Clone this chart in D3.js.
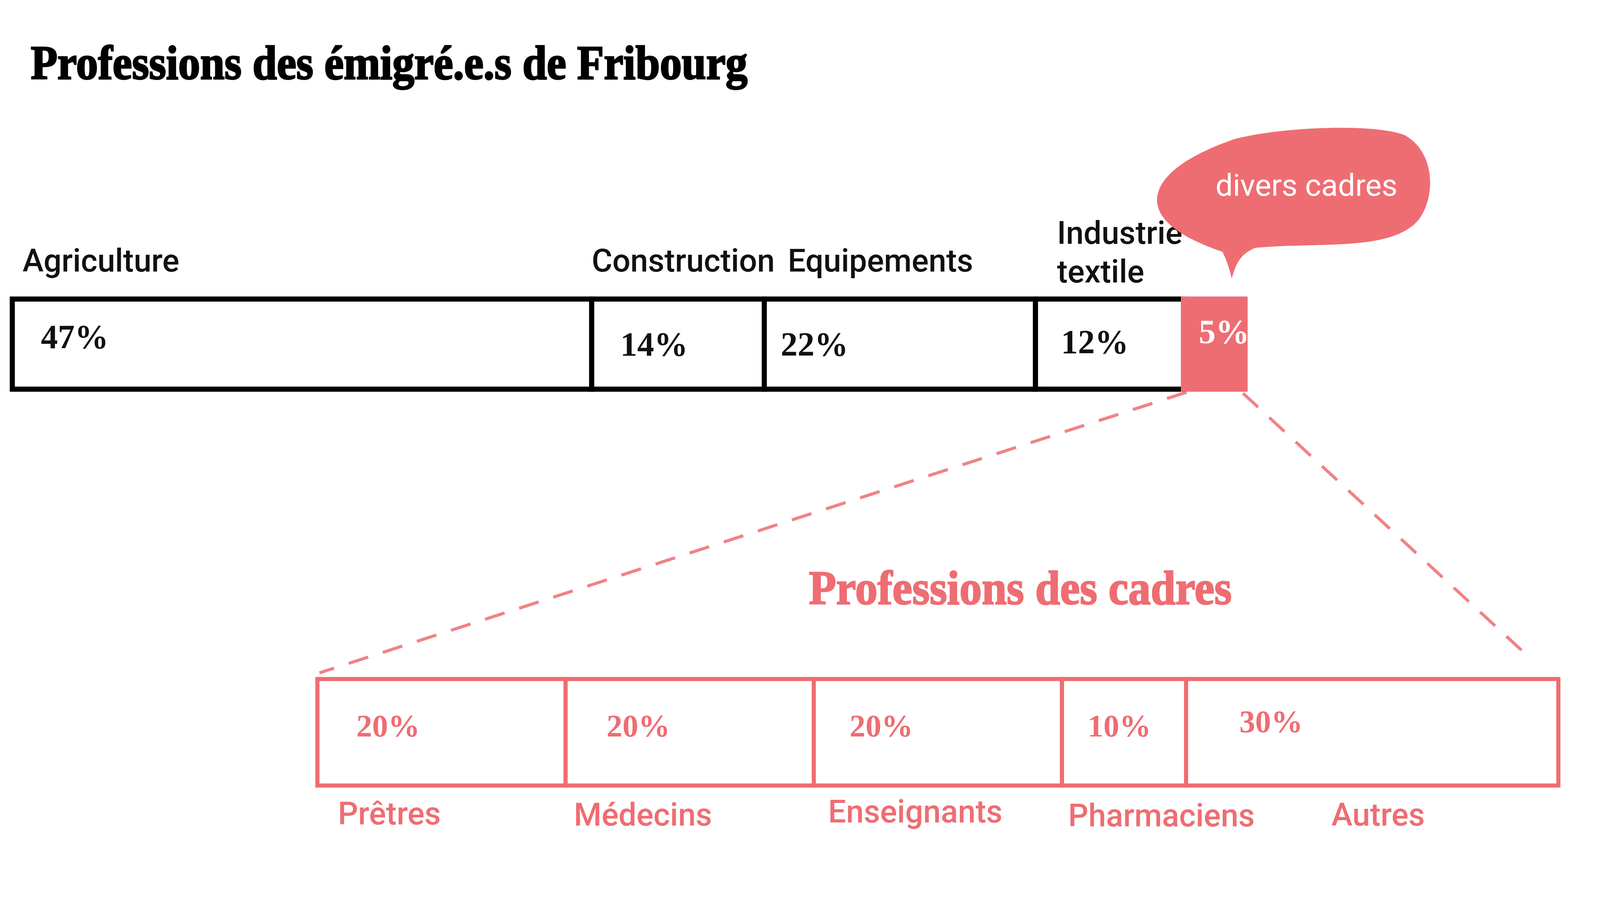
<!DOCTYPE html>
<html>
<head>
<meta charset="utf-8">
<script src="https://cdn.jsdelivr.net/npm/d3@7"></script>
<style>
  html, body { margin: 0; padding: 0; background: #fff; }
  svg { display: block; }
</style>
</head>
<body>
<div id="chart"></div>
<script>
// data
const categories = ["Agriculture", "Construction", "Equipements", "Industrie textile", "divers cadres"];
const shares = [47, 14, 22, 12, 5];
const cadreCategories = ["Prêtres", "Médecins", "Enseignants", "Pharmaciens", "Autres"];
const cadreShares = [20, 20, 20, 10, 30];

const pink = "#ee6d72";
const W = 1568, H = 2306 * 1568 / 4110;

const svg = d3.select("#chart").append("svg")
    .attr("width", 4110)
    .attr("height", 2306)
    .attr("viewBox", [0, 0, W, H]);

function stack(values) {
    let acc = 0;
    return values.map(v => { const s = { x0: acc, x1: acc + v, v }; acc += v; return s; });
}

const topSegs = stack(shares);
const botSegs = stack(cadreShares);

const xTop = d3.scaleLinear().domain([0, 100]).range([12, 1216]);
const xBot = d3.scaleLinear().domain([0, 100]).range([310, 1522]);
const topY = 292, topH = 88;
const botY = 663, botH = 104;

// title
svg.append("text")
    .attr("x", 30).attr("y", 77)
    .attr("font-family", "Liberation Serif")
    .attr("font-weight", "bold")
    .attr("font-size", 47)
    .attr("textLength", 700)
    .attr("lengthAdjust", "spacingAndGlyphs")
    .attr("fill", "#000")
    .attr("stroke", "#000")
    .attr("stroke-width", 1.4)
    .text("Professions des émigré.e.s de Fribourg");

// dashed zoom lines
const dash = svg.append("g")
    .attr("stroke", pink)
    .attr("stroke-width", 3)
    .attr("stroke-dasharray", "20 15")
    .attr("opacity", 0.85);
dash.append("line")
    .attr("x1", xTop(95) + 3).attr("y1", topY + topH + 3)
    .attr("x2", xBot(0) + 2).attr("y2", botY - 6);
dash.append("line")
    .attr("x1", xTop(100) - 2).attr("y1", topY + topH + 4)
    .attr("x2", xBot(100) - 25).attr("y2", botY - 18);

// top bar
const g1 = svg.append("g");
g1.selectAll("rect")
    .data(topSegs)
    .join("rect")
    .attr("x", d => xTop(d.x0))
    .attr("y", topY)
    .attr("width", d => xTop(d.x1) - xTop(d.x0))
    .attr("height", topH)
    .attr("fill", (d, i) => i === topSegs.length - 1 ? pink : "#fff")
    .attr("stroke", (d, i) => i === topSegs.length - 1 ? pink : "#000")
    .attr("stroke-width", 5);

const pctDx = [28, 28, 16, 25, 15];
const pctDy = [340, 347, 347, 345, 335];
g1.selectAll("text.pct")
    .data(topSegs)
    .join("text")
    .attr("class", "pct")
    .attr("x", (d, i) => xTop(d.x0) + pctDx[i])
    .attr("y", (d, i) => pctDy[i])
    .attr("font-family", "Liberation Serif")
    .attr("font-weight", "bold")
    .attr("font-size", 33)
    .attr("fill", (d, i) => i === topSegs.length - 1 ? "#fff" : "#111")
    .text(d => d.v + "%");

const labDx = [10, 0, 23, 21];
const lab = g1.selectAll("text.lab")
    .data(topSegs.slice(0, 4))
    .join("text")
    .attr("class", "lab")
    .attr("x", (d, i) => xTop(d.x0) + labDx[i])
    .attr("y", (d, i) => i === 3 ? 238 : 265)
    .attr("font-family", "Roboto")
    .attr("font-weight", 500)
    .attr("font-size", 31)
    .attr("fill", "#111");
lab.each(function (d, i) {
    const words = categories[i].split(" ");
    const t = d3.select(this);
    if (i === 3) {
        words.forEach((w, j) => t.append("tspan")
            .attr("x", xTop(d.x0) + labDx[i])
            .attr("dy", j === 0 ? 0 : 38)
            .text(w));
    } else {
        t.text(categories[i]);
    }
});

// speech bubble
svg.append("path")
    .attr("fill", pink)
    .attr("d", "M1203,272 C1207,258 1211,248 1226,242 C1290,236 1360,246 1386,214 C1403,190 1401,148 1372,132 C1342,120 1250,124 1205,136 C1165,150 1130,170 1130,196 C1131,220 1165,236 1194,246 C1199,256 1201,264 1203,272 Z");
svg.append("text")
    .attr("x", 1276).attr("y", 191)
    .attr("text-anchor", "middle")
    .attr("font-family", "Roboto")
    .attr("font-size", 30)
    .attr("fill", "#fff")
    .text(categories[4]);

// subtitle
svg.append("text")
    .attr("x", 790).attr("y", 590)
    .attr("font-family", "Liberation Serif")
    .attr("font-weight", "bold")
    .attr("font-size", 47)
    .attr("textLength", 413)
    .attr("lengthAdjust", "spacingAndGlyphs")
    .attr("fill", pink)
    .attr("stroke", pink)
    .attr("stroke-width", 1.2)
    .text("Professions des cadres");

// bottom bar
const g2 = svg.append("g");
g2.selectAll("rect")
    .data(botSegs)
    .join("rect")
    .attr("x", d => xBot(d.x0))
    .attr("y", botY)
    .attr("width", d => xBot(d.x1) - xBot(d.x0))
    .attr("height", botH)
    .attr("fill", "#fff")
    .attr("stroke", pink)
    .attr("stroke-width", 4);

const bPctDx = [38, 40, 35, 25, 52];
g2.selectAll("text.pct")
    .data(botSegs)
    .join("text")
    .attr("class", "pct")
    .attr("x", (d, i) => xBot(d.x0) + bPctDx[i])
    .attr("y", (d, i) => i === 4 ? 715 : 719)
    .attr("font-family", "Liberation Serif")
    .attr("font-weight", "bold")
    .attr("font-size", 31)
    .attr("fill", pink)
    .text(d => d.v + "%");

const bLabDx = [20, 8, 14, 6, 142];
g2.selectAll("text.lab")
    .data(botSegs)
    .join("text")
    .attr("class", "lab")
    .attr("x", (d, i) => xBot(d.x0) + bLabDx[i])
    .attr("y", (d, i) => [805, 806, 803, 807, 806][i])
    .attr("font-family", "Roboto")
    .attr("font-weight", 500)
    .attr("font-size", 31)
    .attr("fill", pink)
    .text((d, i) => cadreCategories[i]);
</script>
</body>
</html>
